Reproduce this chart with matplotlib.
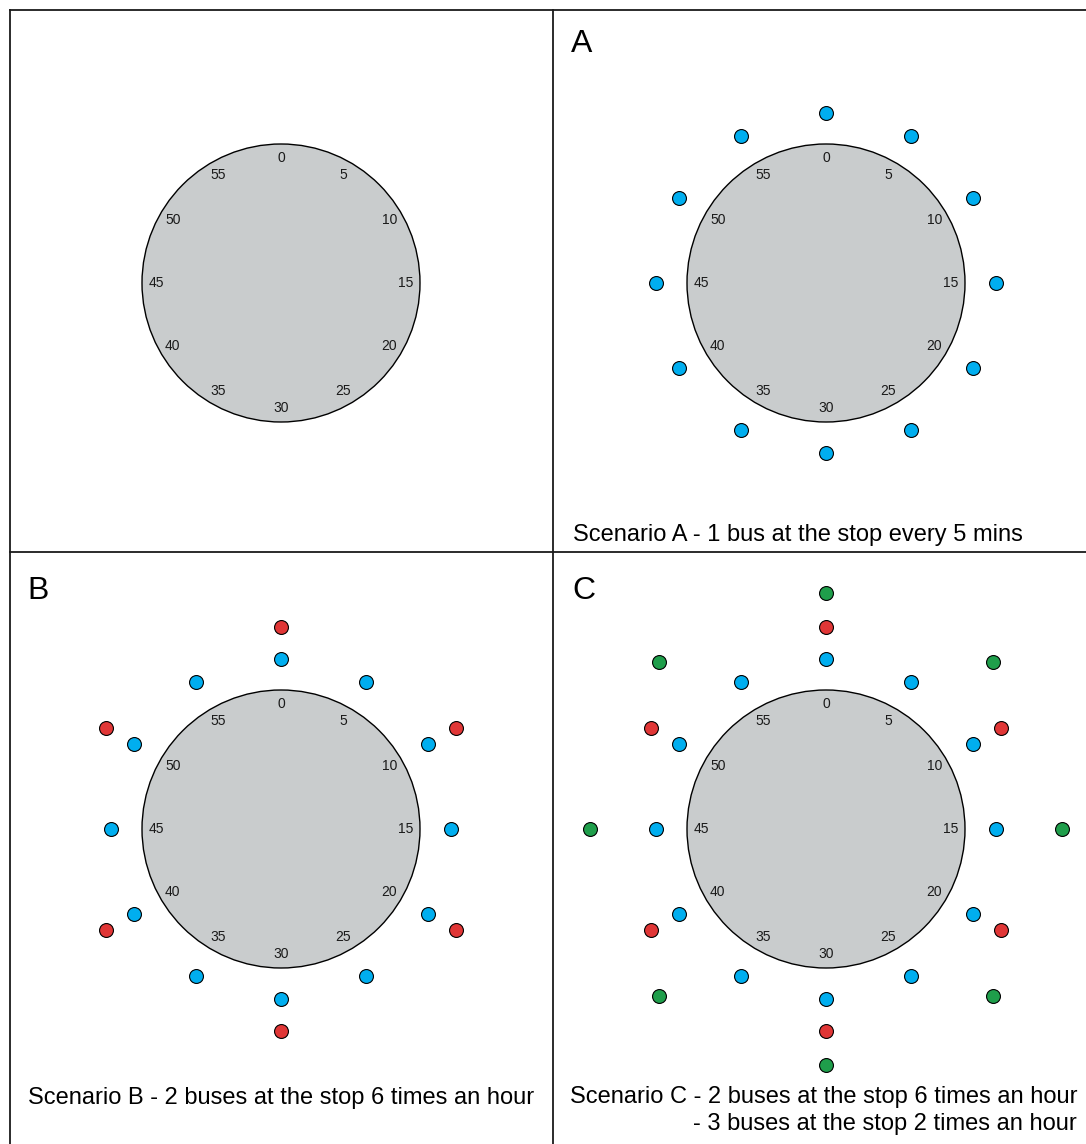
import numpy as np
import matplotlib
matplotlib.use('Agg')
import matplotlib.pyplot as plt
from matplotlib.patches import Circle

plt.rcParams['font.family'] = ['Liberation Sans', 'DejaVu Sans']

# Dados ------------------------------------------------------------
minute_labels = [0, 5, 10, 15, 20, 25, 30, 35, 40, 45, 50, 55]

scen_a_blue = [0, 5, 10, 15, 20, 25, 30, 35, 40, 45, 50, 55]

scen_b_blue = [0, 5, 10, 15, 20, 25, 30, 35, 40, 45, 50, 55]
scen_b_red = [0, 10, 20, 30, 40, 50]

scen_c_blue = [0, 5, 10, 15, 20, 25, 30, 35, 40, 45, 50, 55]
scen_c_red = [0, 10, 20, 30, 40, 50]
scen_c_green = [0, 7.5, 15, 22.5, 30, 37.5, 45, 52.5]

panel_letters = ['', 'A', 'B', 'C']
caption_a = 'Scenario A - 1 bus at the stop every 5 mins'
caption_b = 'Scenario B - 2 buses at the stop 6 times an hour'
caption_c = ['Scenario C - 2 buses at the stop 6 times an hour',
             '- 3 buses at the stop 2 times an hour']

# Cores / layout (pixels) -------------------------------------------
BLUE = '#00AEEF'
RED = '#E03636'
GREEN = '#1F9E4B'
GREY = '#C9CCCD'

W, H = 1086, 1144
R_FACE = 139
R_LABEL = 125
R_RING = {'blue': 170, 'red': 202, 'green': 236}

centres = [(281, 283), (826, 283), (281, 829), (826, 829)]
letter_xy = [None, (571, 52), (27, 599), (572, 599)]

fig = plt.figure(figsize=(W / 100, H / 100), dpi=100)
ax = fig.add_axes([0, 0, 1, 1])
ax.set_xlim(0, W)
ax.set_ylim(H, 0)
ax.axis('off')

# bordas dos quadros
lc = '#1a1a1a'
ax.plot([10, W], [10, 10], color=lc, lw=1.3)
ax.plot([10, W], [552, 552], color=lc, lw=1.3)
ax.plot([10, 10], [10, H], color=lc, lw=1.3)
ax.plot([553, 553], [10, H], color=lc, lw=1.3)


def pos(cx, cy, minutes, r):
    m = np.asarray(minutes, dtype=float)
    ang = np.deg2rad(m * 6.0)
    return cx + r * np.sin(ang), cy - r * np.cos(ang)


def clock(cx, cy):
    ax.add_patch(Circle((cx, cy), R_FACE, fc=GREY, ec='black', lw=1.0, zorder=2))
    xs, ys = pos(cx, cy, minute_labels, R_LABEL)
    for m, x, y in zip(minute_labels, xs, ys):
        ax.text(x, y, str(m), fontsize=10, ha='center', va='center',
                color='#1a1a1a', zorder=3)


def dots(cx, cy, minutes, ring, color):
    xs, ys = pos(cx, cy, minutes, R_RING[ring])
    ax.scatter(xs, ys, s=100, c=color, edgecolors='black', linewidths=0.8,
               zorder=4)


for cx, cy in centres:
    clock(cx, cy)

dots(*centres[1], scen_a_blue, 'blue', BLUE)

dots(*centres[2], scen_b_blue, 'blue', BLUE)
dots(*centres[2], scen_b_red, 'red', RED)

dots(*centres[3], scen_c_blue, 'blue', BLUE)
dots(*centres[3], scen_c_red, 'red', RED)
dots(*centres[3], scen_c_green, 'green', GREEN)

# letras dos quadros
for i in range(1, 4):
    ax.text(letter_xy[i][0], letter_xy[i][1], panel_letters[i], fontsize=23,
            ha='left', va='baseline', color='black')

# legendas
ax.text(573, 541, caption_a, fontsize=17, ha='left', va='baseline')
ax.text(28, 1104, caption_b, fontsize=17, ha='left', va='baseline')
ax.text(1077, 1103, caption_c[0], fontsize=17, ha='right', va='baseline')
ax.text(1077, 1130, caption_c[1], fontsize=17, ha='right', va='baseline')

fig.savefig('out.png', dpi=100)
